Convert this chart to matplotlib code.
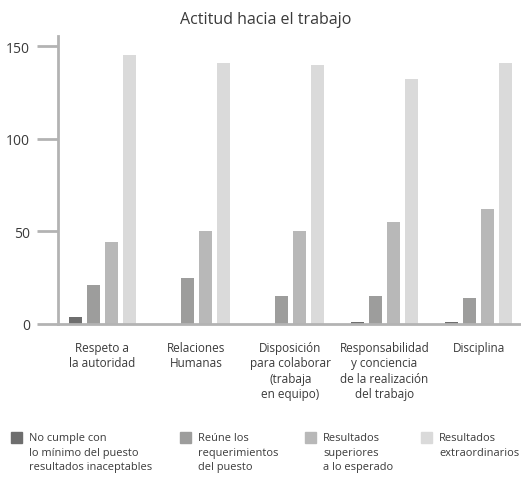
import numpy as np
import matplotlib.pyplot as plt
from matplotlib.patches import Rectangle

plt.rcParams['font.family'] = ['Open Sans', 'DejaVu Sans']

categories = ["Respeto a\nla autoridad", "Relaciones\nHumanas",
              "Disposición\npara colaborar\n(trabaja\nen equipo)",
              "Responsabilidad\ny conciencia\nde la realización\ndel trabajo",
              "Disciplina"]
series_names = ["No cumple con\nlo mínimo del puesto\nresultados inaceptables",
                "Reúne los\nrequerimientos\ndel puesto",
                "Resultados\nsuperiores\na lo esperado",
                "Resultados\nextraordinarios"]
no_cumple = [4, 0, 0, 1, 1]
reune = [21, 25, 15, 15, 14]
superiores = [44, 50, 50, 55, 62]
extraordinarios = [145, 141, 140, 132, 141]
colors = ["#6e6e6e", "#9d9d9c", "#b8b8b8", "#dadada"]

axis_color = "#b3b3b3"
text_color = "#3a3a3a"
W, H = 521, 485

fig = plt.figure(figsize=(5.21, 4.85), dpi=100)
ax = fig.add_axes([58 / W, 160 / H, 462 / W, 288 / H])

x = np.arange(len(categories))
width = 13 / 94
step = 18 / 94
for i, vals in enumerate([no_cumple, reune, superiores, extraordinarios]):
    ax.bar(x + (i - 1.5) * step, vals, width=width, color=colors[i], zorder=2)

ax.set_xlim(-0.47, 4.44)
ax.set_ylim(0, 155.4)
ax.set_yticks([0, 50, 100, 150])
ax.set_xticks(x)
ax.set_xticklabels(categories, fontsize=8.5, color=text_color, linespacing=1.25,
                   va="top")
ax.tick_params(axis="x", length=0, pad=12)
ax.tick_params(axis="y", length=15, width=2, color=axis_color, labelsize=10,
               labelcolor=text_color, pad=5)
for s in ["top", "right"]:
    ax.spines[s].set_visible(False)
for s in ["left", "bottom"]:
    ax.spines[s].set_color(axis_color)
    ax.spines[s].set_linewidth(2)

fig.text(266 / W, 1 - 20 / H, "Actitud hacia el trabajo", ha="center",
         va="center", fontsize=11.5, color=text_color)

# legend drawn by hand so the swatches sit on the first text line
box_x = [11, 180, 305, 421]
for bx, name, c in zip(box_x, series_names, colors):
    fig.patches.append(Rectangle((bx / W, 1 - 444 / H), 11 / W, 11 / H,
                                 color=c, transform=fig.transFigure))
    fig.text((bx + 18) / W, 1 - 433 / H, name, ha="left", va="top",
             fontsize=7.9, linespacing=1.45, color=text_color)

fig.savefig("out.png", dpi=100)
